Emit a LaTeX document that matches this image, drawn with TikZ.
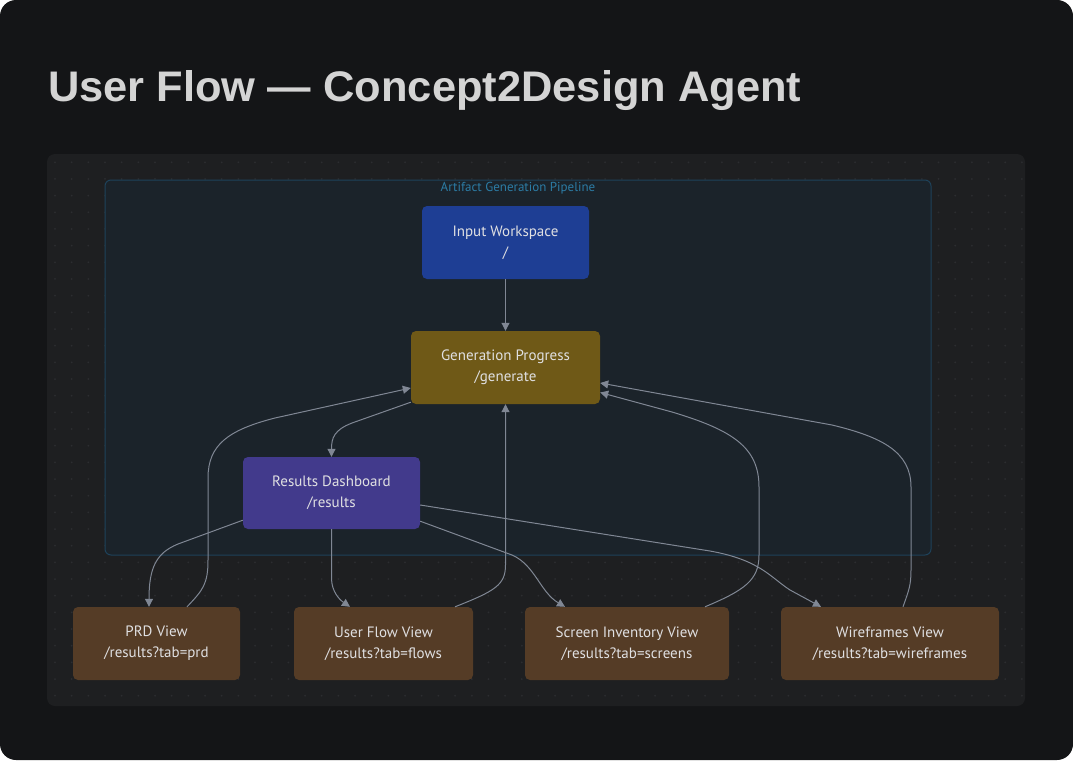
\documentclass[tikz,border=0pt]{standalone}
\usepackage{fontspec}
\setmainfont{PT Sans}
\newfontfamily\titlefont{Liberation Sans}
\usetikzlibrary{arrows.meta,calc}
\definecolor{pagebg}{RGB}{20,21,23}
\definecolor{panelbg}{RGB}{30,31,33}
\definecolor{dotcol}{RGB}{44,45,48}
\definecolor{clusterbg}{RGB}{27,35,42}
\definecolor{clusterline}{RGB}{30,66,90}
\definecolor{clusterlabel}{RGB}{44,124,165}
\definecolor{titlecol}{RGB}{212,212,212}
\definecolor{nodetext}{RGB}{224,224,226}
\definecolor{edgecol}{RGB}{128,135,148}
\definecolor{inpcol}{RGB}{30,62,148}
\definecolor{gencol}{RGB}{111,89,23}
\definecolor{rescol}{RGB}{66,58,140}
\definecolor{viewcol}{RGB}{85,60,38}
\tikzset{
  box/.style={rounded corners=5pt, minimum height=73pt, align=center, text=nodetext,
    font=\fontsize{15}{21}\selectfont, inner sep=0pt},
  edge/.style={draw=edgecol, line width=1pt, -{Triangle[length=8pt,width=8pt]}},
}
\begin{document}
\begin{tikzpicture}[x=1pt,y=-1pt]
\useasboundingbox (0,0) rectangle (1073,760);
\fill[white] (0,0) rectangle (1073,760);
\fill[pagebg, rounded corners=16pt] (0,0) rectangle (1073,760);
\node[anchor=base west, text=titlecol, inner sep=0pt] (title) at (48,101)
  {\resizebox{753pt}{31pt}{\titlefont\bfseries User Flow — Concept2Design Agent}};
% panel
\fill[panelbg, rounded corners=8pt] (47,154) rectangle (1025,706);
\begin{scope}
\clip[rounded corners=8pt] (47,154) rectangle (1025,706);
\foreach \i in {0,...,58}{
  \foreach \j in {0,...,32}{
    \fill[dotcol] ({55+\i*16.67},{162.3+\j*16.67}) circle (1pt);
  }
}
\end{scope}
% cluster
\draw[clusterline, fill=clusterbg, line width=1pt, rounded corners=6pt] (105,180) rectangle (931,555);
\node[text=clusterlabel, font=\fontsize{13}{15}\selectfont, inner sep=0pt] (clabel) at (518,188.5) {Artifact Generation Pipeline};
% nodes
\node[box, fill=inpcol, minimum width=167pt] (inp) at (505.5,242.5) {Input Workspace\\/};
\node[box, fill=gencol, minimum width=189pt] (gen) at (505.5,367.5) {Generation Progress\\/generate};
\node[box, fill=rescol, minimum width=177pt, minimum height=72pt] (res) at (331.5,493) {Results Dashboard\\/results};
\node[box, fill=viewcol, minimum width=167pt] (prd) at (156.5,643.5) {PRD View\\/results?tab=prd};
\node[box, fill=viewcol, minimum width=179pt] (ufv) at (383.5,643.5) {User Flow View\\/results?tab=flows};
\node[box, fill=viewcol, minimum width=204pt] (scr) at (627,643.5) {Screen Inventory View\\/results?tab=screens};
\node[box, fill=viewcol, minimum width=218pt] (wf) at (890,643.5) {Wireframes View\\/results?tab=wireframes};
% edges
\draw[edge] (inp.south) -- (gen.north);
\draw[edge] ($(gen.south west)+(0,-2)$) -- (352,423) .. controls (334,430) and (331.5,438) .. (res.north);
\draw[edge] ($(prd.north)+(30.5,0)$) .. controls (203,590) and (208,584) .. (208,560) -- (208,478)
  .. controls (208,445) and (228,430) .. (275,418) -- ($(gen.west)+(0,20.5)$);
\draw[edge] ($(res.south west)+(0,-9)$) -- (178,544) .. controls (156,553) and (149,568) .. ($(prd.north)+(-7.5,0)$);
\draw[edge] ($(res.south)+(0,0)$) -- (331.5,578) .. controls (331.5,592) and (340,600) .. ($(ufv.north)+(-33.5,0)$);
\draw[edge] ($(ufv.north)+(71.5,0)$) .. controls (495,591) and (505.5,585) .. (505.5,565) -- (gen.south);
\draw[edge] ($(res.south east)+(0,-8)$) -- (512,555) .. controls (535,565) and (540,592) .. ($(scr.north)+(-62,0)$);
\draw[edge] ($(scr.north)+(78,0)$) .. controls (745,590) and (759,580) .. (759,555) -- (759,487)
  .. controls (759,447) and (732,430) .. (672,412) -- ($(gen.east)+(0,25)$);
\draw[edge] ($(res.east)+(0,12)$) -- (710,551) .. controls (760,560) and (770,577) .. (790,590) -- ($(wf.north)+(-69,0)$);
\draw[edge] ($(wf.north)+(13,0)$) .. controls (909,590) and (911,585) .. (911,570) -- (911,487)
  .. controls (911,452) and (882,437) .. (832,425) -- ($(gen.east)+(0,15.5)$);
\end{tikzpicture}
\end{document}
